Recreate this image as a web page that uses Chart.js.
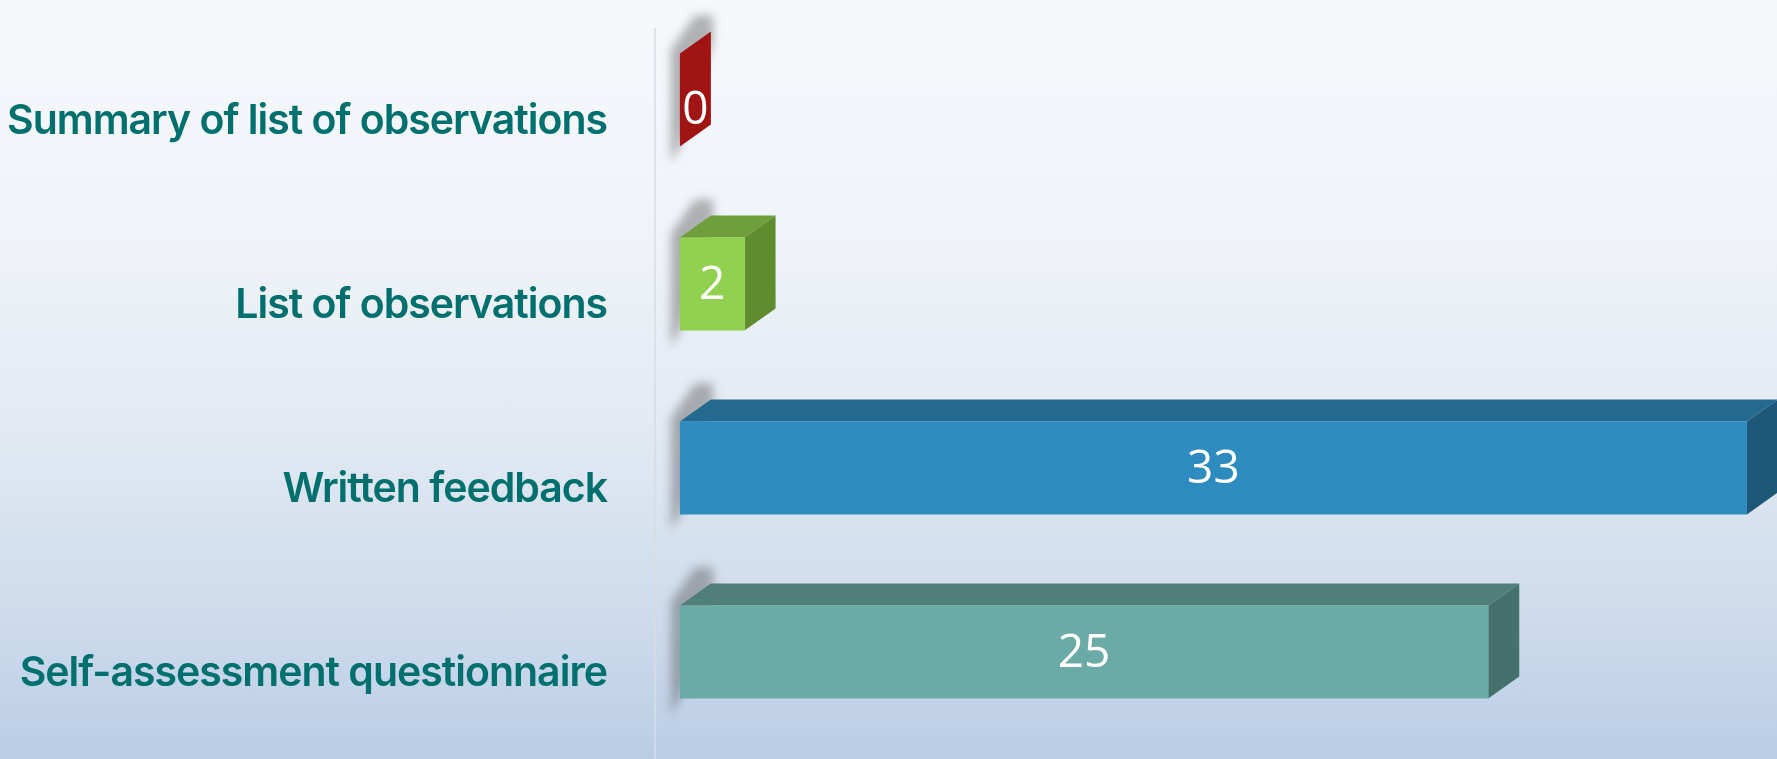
<!DOCTYPE html>
<html>
<head>
<meta charset="utf-8">
<script src="https://cdn.jsdelivr.net/npm/chart.js@4/dist/chart.umd.min.js"></script>
<style>
    html, body { margin: 0; padding: 0; }
    body {
        width: 1777px;
        height: 759px;
        overflow: hidden;
        background: linear-gradient(to bottom, #f5f8fb 0%, #f0f4f9 30%, #e3eaf3 55%, #cfdcec 80%, #bacde6 100%);
    }
    #wrap { position: relative; width: 1777px; height: 759px; }
</style>
</head>
<body>
<div id="wrap"><canvas id="chart"></canvas></div>
<script>
const categories = [
    'Summary of list of observations',
    'List of observations',
    'Written feedback',
    'Self-assessment questionnaire'
];
const responses = [0, 2, 33, 25];

const frontColors = ['#a31313', '#92d050', '#2e8bbf', '#6baba7'];
const topColors = ['#a31313', '#6e9f3a', '#236a8e', '#507f7a'];
const sideColors = ['#a11414', '#5f8c2f', '#1d5878', '#46706b'];

const DEPTH_X = 31,
    DEPTH_Y = -22;

function barBox(bar) {
    const p = bar.getProps(['x', 'y', 'base', 'height'], true);
    return {
        left: Math.min(p.x, p.base),
        right: Math.max(p.x, p.base),
        top: p.y - p.height / 2,
        bottom: p.y + p.height / 2,
        y: p.y
    };
}

function poly(ctx, pts, color) {
    ctx.beginPath();
    ctx.moveTo(pts[0][0], pts[0][1]);
    for (let i = 1; i < pts.length; i++) {
        ctx.lineTo(pts[i][0], pts[i][1]);
    }
    ctx.closePath();
    ctx.fillStyle = color;
    ctx.fill();
}

const bar3d = {
    id: 'bar3d',
    beforeDraw(chart) {
        // tight tracking for the category labels
        chart.ctx.letterSpacing = '-1px';
    },
    beforeDatasetsDraw(chart) {
        const ctx = chart.ctx,
            area = chart.chartArea;

        ctx.save();
        ctx.letterSpacing = '0px';
        // axis wall line
        ctx.strokeStyle = '#d8dce3';
        ctx.lineWidth = 1.5;
        ctx.beginPath();
        ctx.moveTo(area.left, 28);
        ctx.lineTo(area.left, chart.height);
        ctx.stroke();

        chart.getDatasetMeta(0).data.forEach((bar, i) => {
            const b = barBox(bar);

            // soft shadow behind the box
            ctx.save();
            ctx.filter = 'blur(5px)';
            poly(ctx, [
                [b.left - 9, b.bottom + 16],
                [b.left - 9, b.top - 4],
                [b.left + DEPTH_X - 16, b.top + DEPTH_Y - 16],
                [b.left + DEPTH_X + 2, b.top + DEPTH_Y - 16],
                [b.left + DEPTH_X + 2, b.top + DEPTH_Y + 10],
                [b.left, b.bottom]
            ], 'rgba(90,90,90,0.45)');
            ctx.restore();

            if (b.right - b.left > 0.5) {
                poly(ctx, [
                    [b.left, b.top],
                    [b.left + DEPTH_X, b.top + DEPTH_Y],
                    [b.right + DEPTH_X, b.top + DEPTH_Y],
                    [b.right, b.top]
                ], topColors[i]);
            }
            poly(ctx, [
                [b.right, b.top],
                [b.right + DEPTH_X, b.top + DEPTH_Y],
                [b.right + DEPTH_X, b.bottom + DEPTH_Y],
                [b.right, b.bottom]
            ], sideColors[i]);
        });
        ctx.restore();
    },
    afterDatasetsDraw(chart) {
        const ctx = chart.ctx;

        ctx.save();
        ctx.letterSpacing = '0px';
        ctx.fillStyle = '#ffffff';
        ctx.font = '400 46px "Open Sans"';
        ctx.textAlign = 'center';
        ctx.textBaseline = 'middle';
        chart.getDatasetMeta(0).data.forEach((bar, i) => {
            const b = barBox(bar),
                flat = b.right - b.left < 0.5,
                cx = flat ? b.left + DEPTH_X / 2 : (b.left + b.right) / 2,
                cy = flat ? b.y + 11 : b.y + 2;

            ctx.fillText(String(responses[i]), cx, cy);
        });
        ctx.restore();
    }
};

new Chart(document.getElementById('chart'), {
    type: 'bar',
    data: {
        labels: categories,
        datasets: [{
            data: responses,
            backgroundColor: frontColors,
            borderWidth: 0,
            categoryPercentage: 1,
            barPercentage: 0.505
        }]
    },
    options: {
        indexAxis: 'y',
        responsive: true,
        maintainAspectRatio: false,
        animation: false,
        layout: {
            padding: {top: 8, bottom: 15, left: 0, right: 0}
        },
        plugins: {
            legend: {display: false},
            tooltip: {enabled: false}
        },
        scales: {
            x: {
                display: false,
                min: -0.77,
                max: 33.93
            },
            y: {
                grid: {display: false, drawTicks: false},
                border: {display: false},
                ticks: {
                    color: '#00706f',
                    padding: 48,
                    labelOffset: 22,
                    font: {family: 'Inter', size: 41, weight: '600'}
                },
                afterFit(scale) {
                    scale.width = 655;
                    scale.paddingTop = 0;
                    scale.paddingBottom = 0;
                }
            }
        }
    },
    plugins: [bar3d]
});
</script>
</body>
</html>
